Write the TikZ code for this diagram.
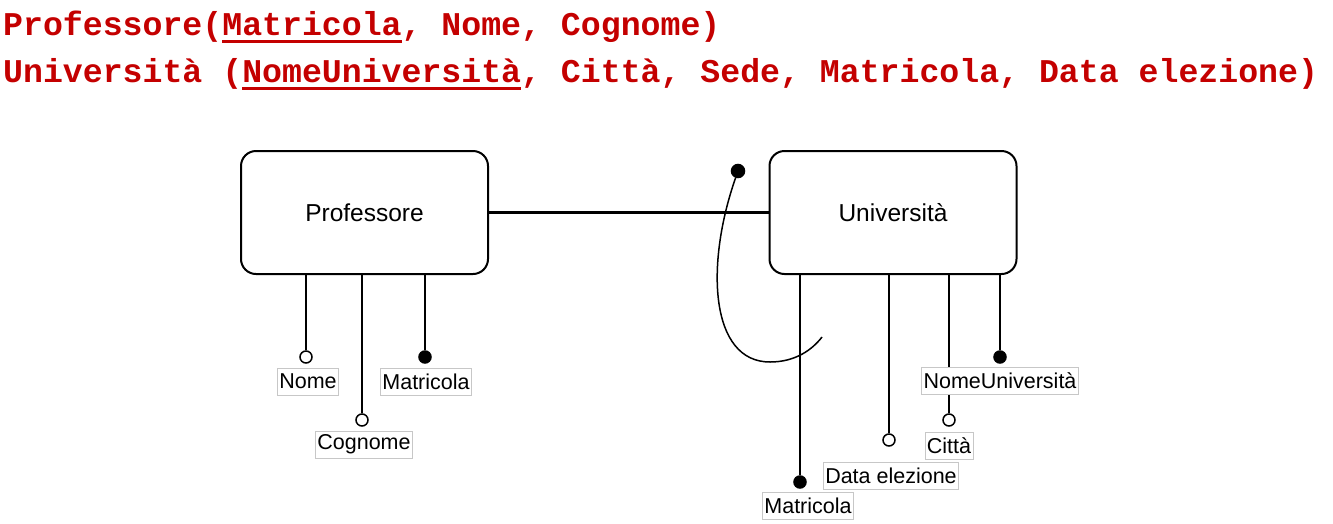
\documentclass[tikz,border=0pt]{standalone}
\usepackage{fontspec}
\setmainfont{Liberation Sans}
\newfontfamily\headfont{Liberation Mono}
\usepackage{xcolor}
\usetikzlibrary{positioning}
\definecolor{keyred}{RGB}{196,0,0}
% sottolineatura della chiave primaria
\newcommand\pkey[1]{\setbox0\hbox{#1}\rlap{\color{keyred}\rule[-8pt]{\wd0}{3pt}}\box0}

\begin{document}
\begin{tikzpicture}[
    x=1pt, y=-1pt, % coordinate in pixel
    heading/.style={font=\headfont\bfseries\fontsize{33.2}{40}\selectfont, text=keyred, inner sep=0pt},
    entity/.style={rectangle, draw=black, line width=2pt, rounded corners=15pt, minimum width=247pt, minimum height=123pt, font=\fontsize{24.5}{29}\selectfont},
    attr/.style={circle, draw=black, line width=1.5pt, fill=white, minimum size=12pt, inner sep=0pt},
    keyattr/.style={attr, fill=black},
    attrname/.style={rectangle, draw=black!22, line width=0.8pt, fill=white, inner xsep=2pt, inner ysep=0pt, minimum height=27pt, font=\fontsize{21.5}{26}\selectfont},
    link/.style={draw, line width=2pt},
    relation/.style={draw, line width=3pt},
    idcurve/.style={draw, line width=1.5pt}
]
\useasboundingbox (0,0) rectangle (1333,523);

% Schema relazionale
\node[heading, anchor=base west] (relProf) at (3,35) {Professore(\pkey{Matricola}, Nome, Cognome)};
\node[heading, anchor=base west] (relUniv) at (3,82) {Università (\pkey{NomeUniversità}, Città, Sede, Matricola, Data elezione)};

% Entita
\node[entity] (prof) at (364.5,212.5) {Professore};
\node[entity] (univ) at (893,212.5) {Università};

% Relazione
\draw[relation] (prof.east) -- (univ.west);

% Identificatore esterno
\node[keyattr, minimum size=13pt] (idDot) at (738,171) {};
\coordinate (idEnd) at (822,337);
\draw[idcurve] (idDot) .. controls (705,265) and (710,362) .. (770,362) .. controls (795,362) and (812,350) .. (idEnd);

% Attributi Professore
\node[attr] (pNome) at (306,357) {};
\node[attr] (pCognome) at (362,420) {};
\node[keyattr] (pMatricola) at (425,357) {};
\draw[link] (prof.south -| pNome) -- (pNome);
\draw[link] (prof.south -| pCognome) -- (pCognome);
\draw[link] (prof.south -| pMatricola) -- (pMatricola);

% Attributi Universita
\node[keyattr] (uMatricola) at (800,482) {};
\node[attr] (uData) at (889,440) {};
\node[attr] (uCitta) at (949,420) {};
\node[keyattr] (uNome) at (1000,357) {};
\draw[link] (univ.south -| uMatricola) -- (uMatricola);
\draw[link] (univ.south -| uData) -- (uData);
\draw[link] (univ.south -| uCitta) -- (uCitta);
\draw[link] (univ.south -| uNome) -- (uNome);

% Etichette
\node[attrname, below=4pt of pNome, xshift=2pt] (pNomeLbl) {Nome};
\node[attrname, below=4pt of pCognome, xshift=2pt] (pCognomeLbl) {Cognome};
\node[attrname, below=4pt of pMatricola, xshift=1pt] (pMatricolaLbl) {Matricola};
\node[attrname, below=3pt of uMatricola, xshift=8pt] (uMatricolaLbl) {Matricola};
\node[attrname, below=15pt of uData, xshift=2pt] (uDataLbl) {Data elezione};
\node[attrname, below=5pt of uCitta] (uCittaLbl) {Città};
\node[attrname, below=3pt of uNome] (uNomeLbl) {NomeUniversità};

\end{tikzpicture}
\end{document}
